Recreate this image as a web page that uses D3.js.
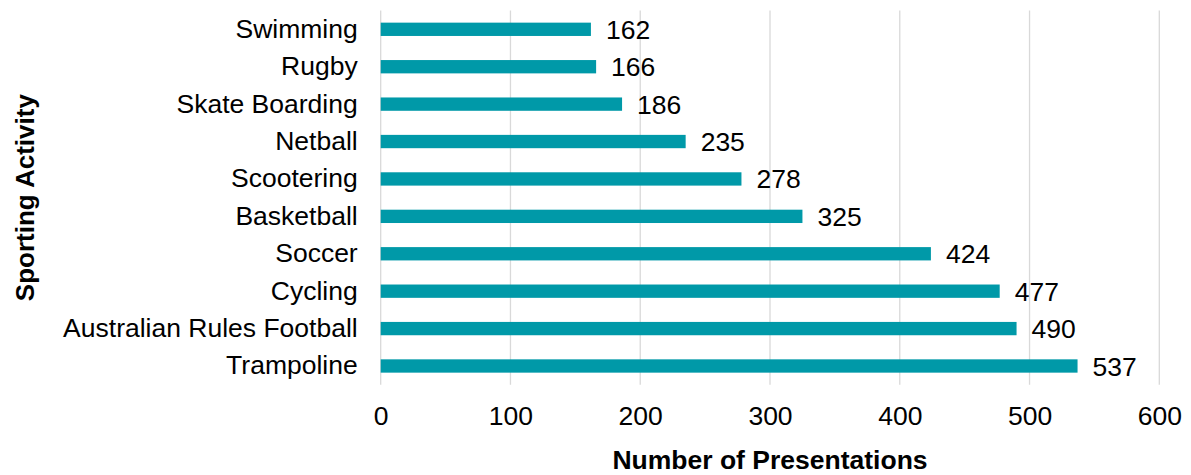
<!DOCTYPE html>
<html>
<head>
<meta charset="utf-8">
<script src="https://cdn.jsdelivr.net/npm/d3@7"></script>
<style>
  html, body { margin: 0; padding: 0; background: #fff; }
  svg { display: block; font-family: "Liberation Sans", Arial, sans-serif; }
</style>
</head>
<body>
<svg id="chart" width="1191" height="475"></svg>
<script>
// Presentations by sporting activity, listed top to bottom
const activities = ["Swimming", "Rugby", "Skate Boarding", "Netball", "Scootering",
  "Basketball", "Soccer", "Cycling", "Australian Rules Football", "Trampoline"];
const presentations = [162, 166, 186, 235, 278, 325, 424, 477, 490, 537];
const xTicks = [0, 100, 200, 300, 400, 500, 600];

const svg = d3.select("#chart");
const plotLeft = 380.7, plotRight = 1159.3, plotTop = 10.6, plotBottom = 384.7;
const labelSize = 26.5;

const x = d3.scaleLinear().domain([0, 600]).range([plotLeft, plotRight]);
const y = d3.scaleBand().domain(activities).range([plotTop, plotBottom])
  .paddingInner(0.644).paddingOuter(0.322);

// vertical gridlines
svg.append("g").selectAll("line").data(xTicks).join("line")
  .attr("x1", d => x(d)).attr("x2", d => x(d))
  .attr("y1", plotTop).attr("y2", plotBottom)
  .attr("stroke", "#d9d9d9").attr("stroke-width", 1.3);

// x tick labels
const xAxis = d3.axisBottom(x).tickValues(xTicks).tickSize(0).tickPadding(0);
const gx = svg.append("g").attr("transform", `translate(0,${plotBottom})`).call(xAxis);
gx.select(".domain").remove();
gx.selectAll("text").attr("font-size", labelSize).attr("fill", "#000")
  .attr("font-family", "Liberation Sans, Arial, sans-serif")
  .attr("dy", null).attr("y", 40.5);

// category labels
const yAxis = d3.axisLeft(y).tickSize(0).tickPadding(23);
const gy = svg.append("g").attr("transform", `translate(${plotLeft},0)`).call(yAxis);
gy.select(".domain").remove();
gy.selectAll("text").attr("font-size", labelSize).attr("fill", "#000")
  .attr("font-family", "Liberation Sans, Arial, sans-serif");

// bars
svg.append("g").selectAll("rect").data(activities).join("rect")
  .attr("x", x(0))
  .attr("y", d => y(d))
  .attr("width", (d, i) => x(presentations[i]) - x(0))
  .attr("height", y.bandwidth())
  .attr("fill", "#0099A8");

// value labels
svg.append("g").selectAll("text").data(activities).join("text")
  .attr("x", (d, i) => x(presentations[i]) + 15)
  .attr("y", d => y(d) + y.bandwidth() / 2)
  .attr("dy", "0.36em")
  .attr("font-size", labelSize).attr("fill", "#000")
  .text((d, i) => presentations[i]);

// axis titles
svg.append("text")
  .attr("x", (plotLeft + plotRight) / 2).attr("y", 468.5)
  .attr("text-anchor", "middle").attr("font-weight", "bold").attr("font-size", 26.5)
  .text("Number of Presentations");

svg.append("text")
  .attr("transform", `translate(34,${(plotTop + plotBottom) / 2}) rotate(-90)`)
  .attr("text-anchor", "middle").attr("font-weight", "bold").attr("font-size", 26)
  .text("Sporting Activity");
</script>
</body>
</html>
